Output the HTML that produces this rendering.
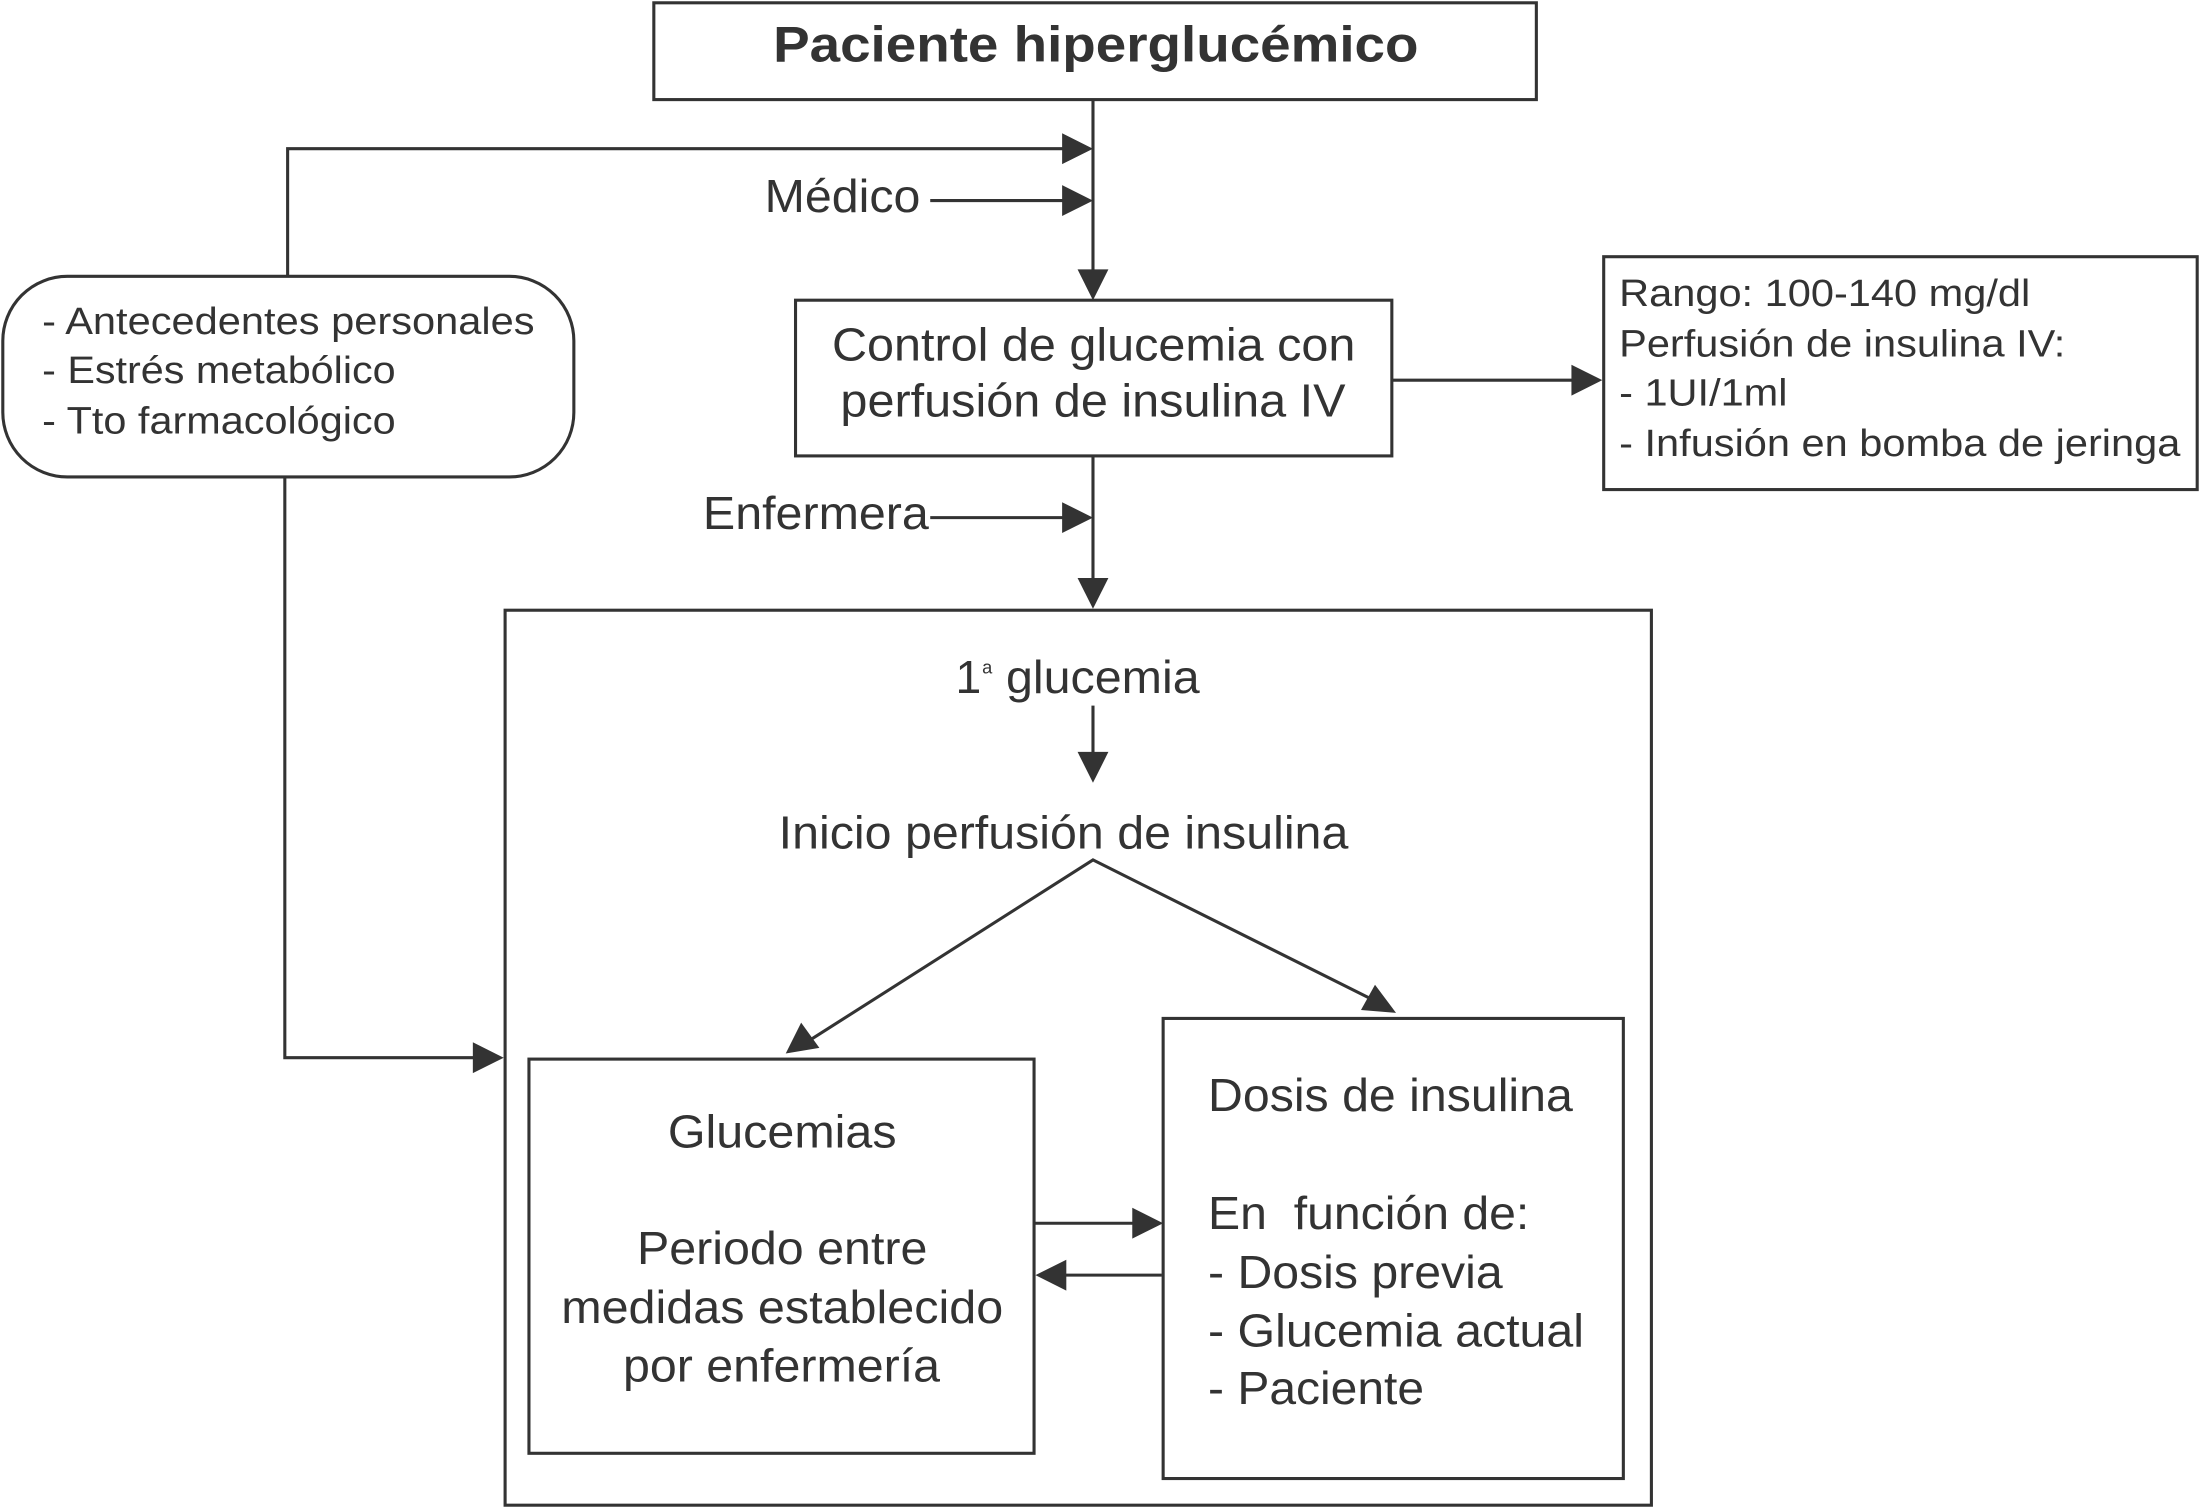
<!DOCTYPE html>
<html><head><meta charset="utf-8"><style>
html,body{margin:0;padding:0;background:#fff}
svg{display:block}
text{font-family:"Liberation Sans",sans-serif;fill:#333}
</style></head><body>
<svg width="2200" height="1508" viewBox="0 0 1568 1075" preserveAspectRatio="none" xmlns="http://www.w3.org/2000/svg">
<g stroke="#333" stroke-width="2.2" fill="none">
<rect x="466" y="2" width="629" height="69"/>
<rect x="567" y="214" width="425" height="111"/>
<rect x="1143" y="183" width="423" height="166"/>
<rect x="2" y="197" width="407" height="143" rx="46" ry="46"/>
<rect x="360" y="435" width="817" height="638"/>
<rect x="377" y="755" width="360" height="281"/>
<rect x="829" y="726" width="328" height="328"/>
<polyline points="779,71 779,195"/>
<polyline points="205,196 205,106 760,106"/>
<line x1="663" y1="143" x2="760" y2="143"/>
<line x1="992" y1="271" x2="1122" y2="271"/>
<polyline points="779,325 779,414"/>
<line x1="663" y1="369" x2="760" y2="369"/>
<line x1="779" y1="503" x2="779" y2="540"/>
<polyline points="578,741 779,613 977,712"/>
<polyline points="203,340 203,754 340,754"/>
<line x1="737" y1="872" x2="810" y2="872"/>
<line x1="828" y1="909" x2="757" y2="909"/>
</g>
<g fill="#333">
<polygon points="779,214 768,192 790,192"/>
<polygon points="779,106 757,95 757,117"/>
<polygon points="779,143 757,132 757,154"/>
<polygon points="1142,271 1120,260 1120,282"/>
<polygon points="779,434 768,412 790,412"/>
<polygon points="779,369 757,358 757,380"/>
<polygon points="779,558 768,536 790,536"/>
<polygon points="560,751 571,729 584,747"/>
<polygon points="995,722 970,720 980,702"/>
<polygon points="359,754 337,743 337,765"/>
<polygon points="829,872 807,861 807,883"/>
<polygon points="738,909 760,898 760,920"/>
</g>
<g lengthAdjust="spacingAndGlyphs">
<text x="551" y="44" font-size="36" font-weight="bold" textLength="460" lengthAdjust="spacingAndGlyphs">Paciente hiperglucémico</text>
<text x="545" y="151" font-size="33" textLength="111" lengthAdjust="spacingAndGlyphs">Médico</text>
<text x="593" y="257" font-size="33" textLength="373" lengthAdjust="spacingAndGlyphs">Control de glucemia con</text>
<text x="599" y="297" font-size="33" textLength="360" lengthAdjust="spacingAndGlyphs">perfusión de insulina IV</text>
<g font-size="27">
<text x="1154" y="218" textLength="293" lengthAdjust="spacingAndGlyphs">Rango: 100-140 mg/dl</text>
<text x="1154" y="254" textLength="318" lengthAdjust="spacingAndGlyphs">Perfusión de insulina IV:</text>
<text x="1154" y="289" textLength="120" lengthAdjust="spacingAndGlyphs">- 1UI/1ml</text>
<text x="1154" y="325" textLength="400" lengthAdjust="spacingAndGlyphs">- Infusión en bomba de jeringa</text>
<text x="30" y="238" textLength="351" lengthAdjust="spacingAndGlyphs">- Antecedentes personales</text>
<text x="30" y="273" textLength="252" lengthAdjust="spacingAndGlyphs">- Estrés metabólico</text>
<text x="30" y="309" textLength="252" lengthAdjust="spacingAndGlyphs">- Tto farmacológico</text>
</g>
<text x="501" y="377" font-size="33" textLength="161" lengthAdjust="spacingAndGlyphs">Enfermera</text>
<text x="681" y="494" font-size="33">1</text>
<text x="700" y="480" font-size="13">a</text>
<text x="717" y="494" font-size="33" textLength="138" lengthAdjust="spacingAndGlyphs">glucemia</text>
<text x="555" y="605" font-size="33" textLength="406" lengthAdjust="spacingAndGlyphs">Inicio perfusión de insulina</text>
<g font-size="33">
<text x="476" y="818" textLength="163" lengthAdjust="spacingAndGlyphs">Glucemias</text>
<text x="454" y="901" textLength="207" lengthAdjust="spacingAndGlyphs">Periodo entre</text>
<text x="400" y="943" textLength="315" lengthAdjust="spacingAndGlyphs">medidas establecido</text>
<text x="444" y="985" textLength="226" lengthAdjust="spacingAndGlyphs">por enfermería</text>
<text x="861" y="792" textLength="260" lengthAdjust="spacingAndGlyphs">Dosis de insulina</text>
<text x="861" y="876" textLength="229" lengthAdjust="spacingAndGlyphs" xml:space="preserve">En  función de:</text>
<text x="861" y="918" textLength="210" lengthAdjust="spacingAndGlyphs">- Dosis previa</text>
<text x="861" y="960" textLength="268" lengthAdjust="spacingAndGlyphs">- Glucemia actual</text>
<text x="861" y="1001" textLength="154" lengthAdjust="spacingAndGlyphs">- Paciente</text>
</g>
</g>
</svg>
</body></html>
